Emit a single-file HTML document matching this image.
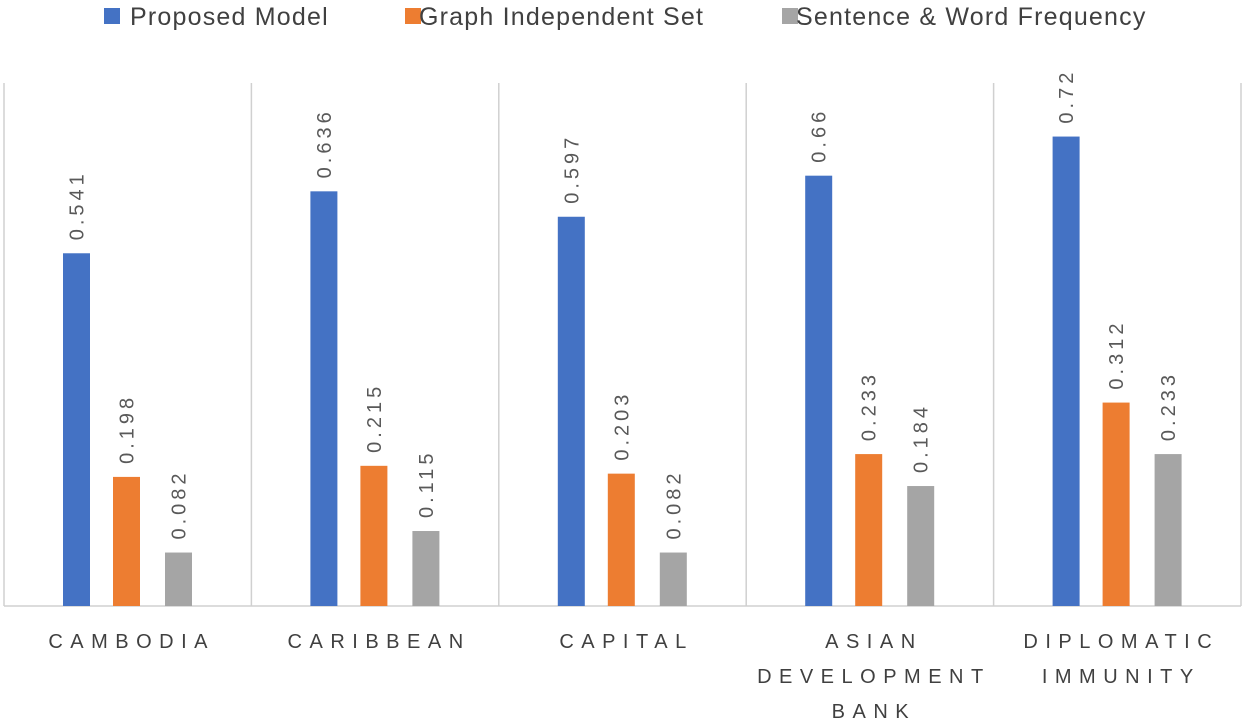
<!DOCTYPE html>
<html><head><meta charset="utf-8"><style>
body{margin:0;background:#fff;width:1250px;height:723px;overflow:hidden}
svg text{font-family:"Liberation Sans",sans-serif}
</style></head><body>
<svg width="1250" height="723">
<g id="legend">
<rect x="104" y="8" width="16" height="16" fill="#4472c4"/>
<text x="130" y="25" font-size="25" letter-spacing="1.2" fill="#404040">Proposed Model</text>
<rect x="405" y="8" width="16" height="16" fill="#ed7d31"/>
<text x="419" y="25" font-size="25" letter-spacing="1.2" fill="#404040">Graph Independent Set</text>
<rect x="782" y="8" width="16" height="16" fill="#a5a5a5"/>
<text x="796" y="25" font-size="25" letter-spacing="1.2" fill="#404040">Sentence &amp; Word Frequency</text>
</g>
<g id="plot"></g>
</svg>
<script>
const categories=[["CAMBODIA"],["CARIBBEAN"],["CAPITAL"],["ASIAN","DEVELOPMENT","BANK"],["DIPLOMATIC","IMMUNITY"]];
const proposed=[0.541,0.636,0.597,0.66,0.72];
const graphSet=[0.198,0.215,0.203,0.233,0.312];
const sentence=[0.082,0.115,0.082,0.184,0.233];
const series=[proposed,graphSet,sentence];
const seriesNames=["proposed","graph-independent-set","sentence-word-frequency"];
const colors=["#4472c4","#ed7d31","#a5a5a5"];
const left=4,right=1241,base=606,scale=652;
const gw=(right-left)/categories.length;
const y=v=>base-v*scale;
const NS="http://www.w3.org/2000/svg";
const g=document.getElementById('plot');
function mk(t,a){const e=document.createElementNS(NS,t);for(const k in a)e.setAttribute(k,a[k]);g.appendChild(e);return e;}
for(let i=0;i<=categories.length;i++){
 const l=mk('line',{x1:left+i*gw,x2:left+i*gw,y1:83,y2:base,stroke:'#d0d0d0','stroke-width':1.5});
 
 
}
const ax=mk('line',{x1:left,x2:right,y1:base,y2:base,stroke:'#d0d0d0','stroke-width':1.5});


const offs=[59,109,161],bw=27;
categories.forEach((c,i)=>{
 const gx=left+i*gw;
 series.forEach((s,j)=>{
  const x=gx+offs[j],v=s[i];
  const r=mk('rect',{x:x,y:y(v),width:bw,height:base-y(v),fill:colors[j]});
  
  
  const tx=x+bw/2+7,ty=y(v)-13;
  const t=mk('text',{x:tx,y:ty,transform:`rotate(-90 ${tx} ${ty})`,'font-size':20,fill:'#595959','letter-spacing':'4'});
  t.textContent=String(v);
  
  
 });
 c.forEach((line,k)=>{
  const t=mk('text',{x:gx+gw/2+4,y:648+k*35,'text-anchor':'middle','font-size':20,fill:'#404040','letter-spacing':'7.5'});
  t.textContent=line;
  
  
 });
});
</script>
</body></html>
